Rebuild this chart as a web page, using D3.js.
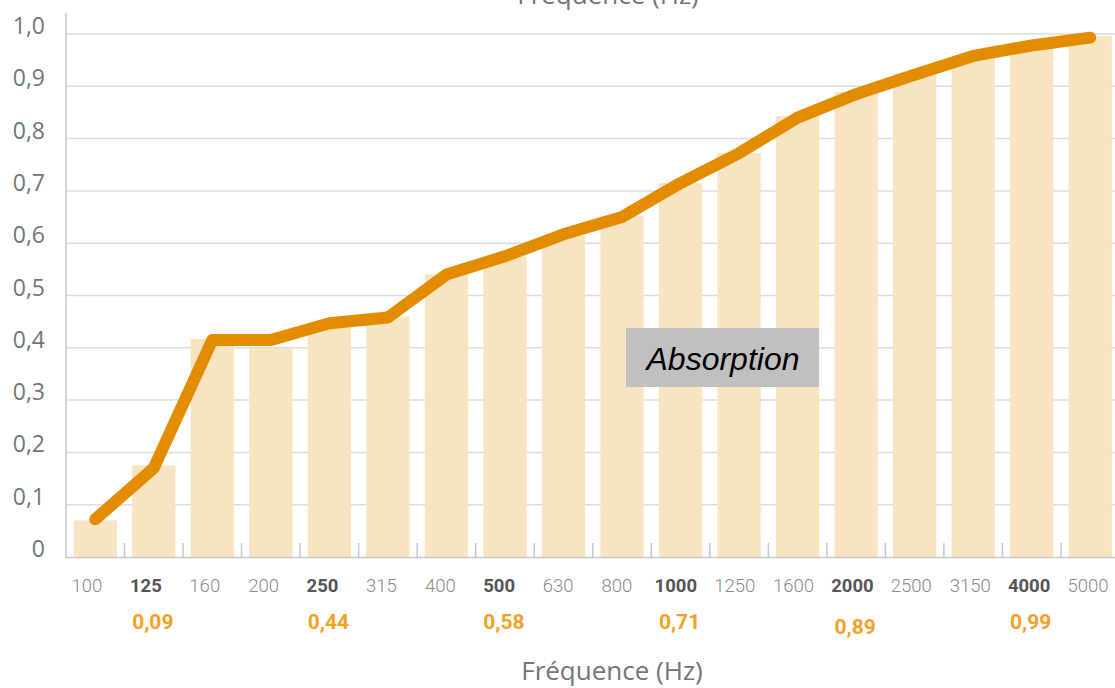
<!DOCTYPE html>
<html>
<head>
<meta charset="utf-8">
<script src="https://cdn.jsdelivr.net/npm/d3@7"></script>
<style>
html,body{margin:0;padding:0;background:#fff;}
svg{display:block;}
</style>
</head>
<body>
<svg id="chart" width="1115" height="688"></svg>
<script>
const categories = ["100","125","160","200","250","315","400","500","630","800","1000","1250","1600","2000","2500","3150","4000","5000"];
const boldCategories = ["125","250","500","1000","2000","4000"];
const barValues = [0.07,0.175,0.417,0.40,0.44,0.46,0.541,0.575,0.615,0.652,0.715,0.772,0.843,0.889,0.925,0.954,0.979,0.996];
const lineValues = [0.072,0.17,0.415,0.415,0.447,0.458,0.54,0.575,0.617,0.65,0.715,0.772,0.84,0.885,0.922,0.958,0.978,0.993];
const octaveCats = ["125","250","500","1000","2000","4000"];
const octaveLabels = ["0,09","0,44","0,58","0,71","0,89","0,99"];
const yTicks = [0,0.1,0.2,0.3,0.4,0.5,0.6,0.7,0.8,0.9,1.0];
const yTickLabels = ["0","0,1","0,2","0,3","0,4","0,5","0,6","0,7","0,8","0,9","1,0"];
const axisTitle = "Fréquence (Hz)";
const seriesName = "Absorption";

const svg = d3.select("#chart");
const x = d3.scaleBand().domain(categories).range([66, 1119.5]).paddingInner(0.26).paddingOuter(0.13);
const xLabel = d3.scalePoint().domain(categories).range([87, 1088]);
const y = d3.scaleLinear().domain([0, 1]).range([557, 34]);

// gridlines
svg.append("g").selectAll("line").data(yTicks.filter(d => d > 0)).join("line")
  .attr("x1", 66).attr("x2", 1115)
  .attr("y1", d => y(d)).attr("y2", d => y(d))
  .attr("stroke", "#dcdcdc").attr("stroke-width", 1.5);

// bars
svg.append("g").selectAll("rect").data(categories).join("rect")
  .attr("x", d => x(d)).attr("width", x.bandwidth())
  .attr("y", (d, i) => y(barValues[i]))
  .attr("height", (d, i) => y(0) - y(barValues[i]))
  .attr("fill", "#f9e4c2");

// x axis baseline and tick marks at band boundaries
svg.append("line").attr("x1", 66).attr("x2", 1115).attr("y1", 557.5).attr("y2", 557.5)
  .attr("stroke", "#c8c8c8").attr("stroke-width", 1.5);
svg.append("g").selectAll("line").data(categories.slice(1)).join("line")
  .attr("x1", d => x(d) - x.step() * 0.13).attr("x2", d => x(d) - x.step() * 0.13)
  .attr("y1", 543).attr("y2", 557)
  .attr("stroke", "#c8c8c8").attr("stroke-width", 1.5);

// y axis line
svg.append("line").attr("x1", 66).attr("x2", 66).attr("y1", 13).attr("y2", 558)
  .attr("stroke", "#c8c8c8").attr("stroke-width", 1.5);

// y labels
svg.append("g").selectAll("text").data(yTicks).join("text")
  .attr("x", 45).attr("y", d => y(d) - 8)
  .attr("dy", "0.35em")
  .attr("text-anchor", "end")
  .attr("font-family", "'Open Sans', sans-serif")
  .attr("font-size", 23)
  .attr("fill", "#72767a")
  .text((d, i) => yTickLabels[i]);

// line
const line = d3.line().x((d, i) => x(categories[i]) + x.bandwidth() / 2).y(d => y(d));
svg.append("path").datum(lineValues)
  .attr("d", line)
  .attr("fill", "none")
  .attr("stroke", "#e48c00")
  .attr("stroke-width", 12)
  .attr("stroke-linejoin", "round")
  .attr("stroke-linecap", "round");

// x labels
svg.append("g").selectAll("text").data(categories).join("text")
  .attr("x", d => xLabel(d))
  .attr("y", 592)
  .attr("text-anchor", "middle")
  .attr("font-family", "Roboto, sans-serif")
  .attr("font-size", 18.5)
  .attr("font-weight", d => boldCategories.includes(d) ? 700 : 300)
  .attr("fill", d => boldCategories.includes(d) ? "#555" : "#8a8a8a")
  .text(d => d);

// octave values
svg.append("g").selectAll("text").data(octaveCats).join("text")
  .attr("x", d => x(d) + x.bandwidth() / 2 - 1)
  .attr("y", d => d === "2000" ? 634 : 629)
  .attr("text-anchor", "middle")
  .attr("font-family", "Roboto, sans-serif")
  .attr("font-size", 21)
  .attr("font-weight", 700)
  .attr("fill", "#f5a028")
  .text((d, i) => octaveLabels[i]);

// axis titles
svg.append("text").attr("x", 612).attr("y", 680)
  .attr("text-anchor", "middle")
  .attr("font-family", "'Open Sans', sans-serif")
  .attr("font-size", 26)
  .attr("fill", "#72767a")
  .text(axisTitle);
svg.append("text").attr("x", 608).attr("y", 4)
  .attr("text-anchor", "middle")
  .attr("font-family", "'Open Sans', sans-serif")
  .attr("font-size", 26)
  .attr("fill", "#72767a")
  .text(axisTitle);

// series label box
const lg = svg.append("g");
lg.append("rect").attr("x", 626).attr("y", 328).attr("width", 193).attr("height", 59).attr("fill", "#c0c0c0");
lg.append("text").attr("x", 723).attr("y", 370)
  .attr("text-anchor", "middle")
  .attr("font-family", "'Liberation Sans', Arial, sans-serif")
  .attr("font-style", "italic")
  .attr("font-size", 32)
  .attr("fill", "#000")
  .text(seriesName);
</script>
</body>
</html>
